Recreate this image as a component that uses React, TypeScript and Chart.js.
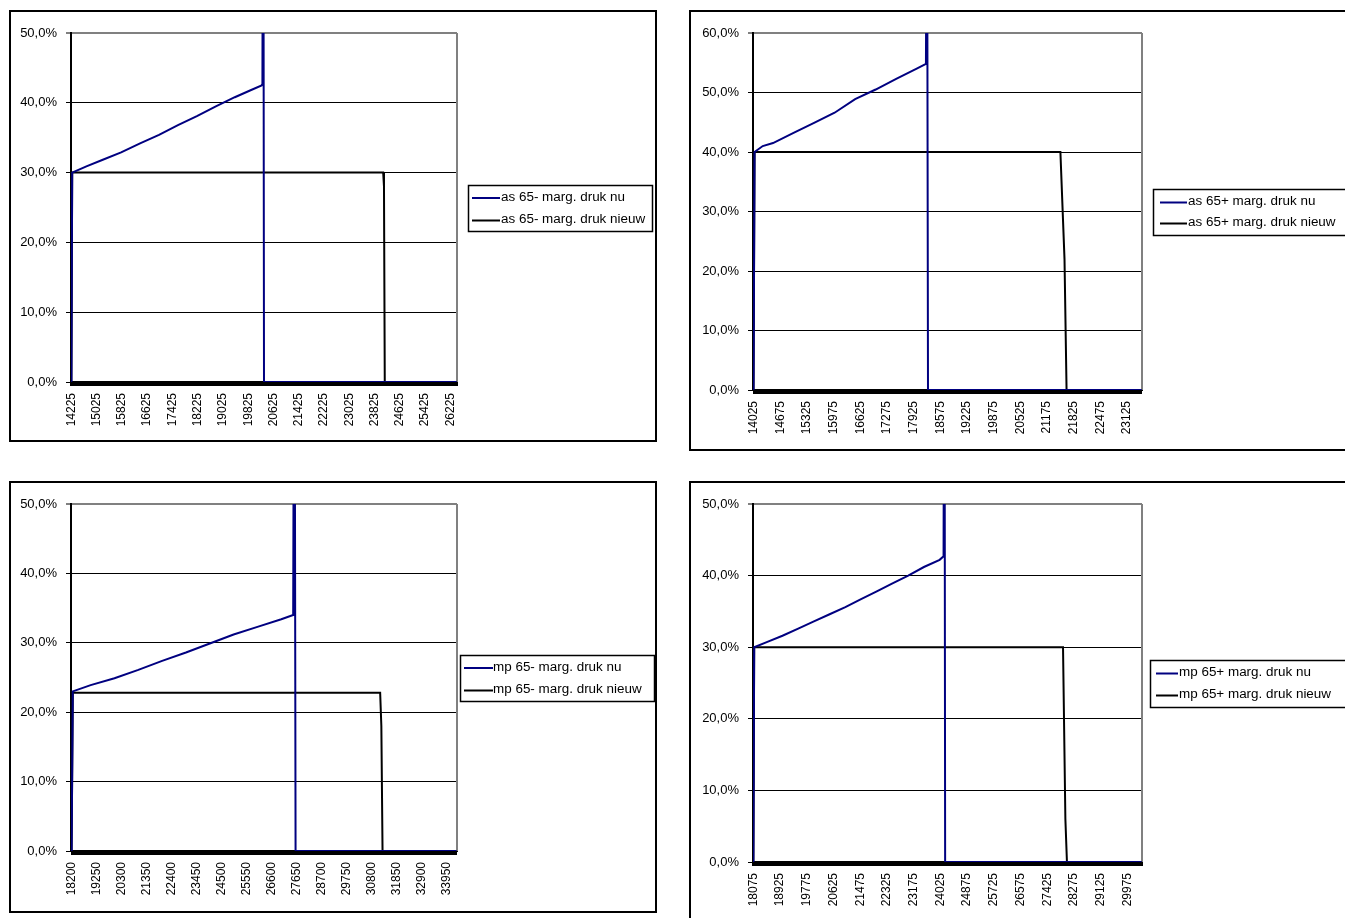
import React, { useEffect, useRef } from 'react';
import { Chart, registerables } from 'chart.js';

Chart.register(...registerables);

const FONT = '"Liberation Sans", Arial, sans-serif';
const NAVY = '#000080';

// ---------- Chart 1: as 65- ----------
const as65minLabels = [14225, 15025, 15825, 16625, 17425, 18225, 19025, 19825, 20625, 21425, 22225, 23025, 23825, 24625, 25425, 26225];
const as65minRange = [14225, 26425];
const as65minNuX = [14225, 14250, 14700, 15200, 15800, 16400, 17000, 17600, 18200, 18800, 19400, 19900, 20250, 20275, 20300, 20325, 26425];
const as65minNuY = [0, 30.0, 30.9, 31.8, 32.9, 34.2, 35.4, 36.8, 38.1, 39.5, 40.8, 41.8, 42.5, 42.7, 100, 0, 0];
const as65minNieuwX = [14225, 14250, 24100, 24125, 24150, 26425];
const as65minNieuwY = [0, 30.0, 30.0, 28.0, 0, 0];

// ---------- Chart 2: as 65+ ----------
const as65plusLabels = [14025, 14675, 15325, 15975, 16625, 17275, 17925, 18575, 19225, 19875, 20525, 21175, 21825, 22475, 23125];
const as65plusRange = [14025, 23475];
const as65plusNuX = [14025, 14050, 14250, 14500, 15000, 15500, 16000, 16500, 17000, 17500, 18000, 18225, 18250, 18275, 23475];
const as65plusNuY = [0, 40.0, 41.0, 41.5, 43.2, 44.9, 46.6, 48.9, 50.5, 52.3, 54.0, 54.8, 100, 0, 0];
const as65plusNieuwX = [14025, 14050, 21500, 21600, 21650, 23475];
const as65plusNieuwY = [0, 40.0, 40.0, 22.0, 0, 0];

// ---------- Chart 3: mp 65- ----------
const mp65minLabels = [18200, 19250, 20300, 21350, 22400, 23450, 24500, 25550, 26600, 27650, 28700, 29750, 30800, 31850, 32900, 33950];
const mp65minRange = [18200, 34350];
const mp65minNuX = [18200, 18250, 19000, 20000, 21000, 22000, 23000, 24000, 25000, 26000, 27000, 27500, 27550, 27600, 34350];
const mp65minNuY = [0, 23.0, 23.9, 24.9, 26.1, 27.4, 28.6, 29.9, 31.2, 32.3, 33.4, 34.0, 100, 0, 0];
const mp65minNieuwX = [18200, 18250, 31150, 31200, 31250, 34350];
const mp65minNieuwY = [0, 22.8, 22.8, 18.0, 0, 0];

// ---------- Chart 4: mp 65+ ----------
const mp65plusLabels = [18075, 18925, 19775, 20625, 21475, 22325, 23175, 24025, 24875, 25725, 26575, 27425, 28275, 29125, 29975];
const mp65plusRange = [18075, 30425];
const mp65plusNuX = [18075, 18100, 18500, 19000, 19500, 20000, 20500, 21000, 21500, 22000, 22500, 23000, 23500, 24000, 24125, 24150, 24175, 30425];
const mp65plusNuY = [0, 30.0, 30.7, 31.6, 32.6, 33.6, 34.6, 35.6, 36.7, 37.8, 38.9, 40.0, 41.2, 42.2, 42.7, 100, 0, 0];
const mp65plusNieuwX = [18075, 18100, 27925, 28000, 28050, 30425];
const mp65plusNieuwY = [0, 30.0, 30.0, 6.0, 0, 0];

type Cfg = {
  box: { left: number; top: number; width: number; height: number };
  pad: { left: number; top: number; right: number; bottom: number };
  yWidth: number;
  xHeight: number;
  yMax: number;
  step: number;
  range: number[];
  labels: number[];
  nuX: number[];
  nuY: number[];
  nieuwX: number[];
  nieuwY: number[];
  names: string[];
  legend: { gap: number; width: number; lineStart: number; lineEnd: number; textX: number; row1: number; row2: number; height: number };
};

const charts: Cfg[] = [
  {
    box: { left: 9, top: 10, width: 648, height: 432 },
    pad: { left: 0, top: 21, right: 198, bottom: 0 },
    yWidth: 60, xHeight: 58, yMax: 50, step: 25,
    range: as65minRange, labels: as65minLabels,
    nuX: as65minNuX, nuY: as65minNuY, nieuwX: as65minNieuwX, nieuwY: as65minNieuwY,
    names: ['as 65- marg. druk nu', 'as 65- marg. druk nieuw'],
    legend: { gap: 11, width: 184, lineStart: 4, lineEnd: 32, textX: 33, row1: 12.5, row2: 35, height: 46 },
  },
  {
    box: { left: 689, top: 10, width: 700, height: 441 },
    pad: { left: 0, top: 21, right: 245, bottom: 0 },
    yWidth: 62, xHeight: 59, yMax: 60, step: 25,
    range: as65plusRange, labels: as65plusLabels,
    nuX: as65plusNuX, nuY: as65plusNuY, nieuwX: as65plusNieuwX, nieuwY: as65plusNieuwY,
    names: ['as 65+ marg. druk nu', 'as 65+ marg. druk nieuw'],
    legend: { gap: 11, width: 200, lineStart: 7, lineEnd: 34, textX: 35, row1: 13, row2: 34, height: 46 },
  },
  {
    box: { left: 9, top: 481, width: 648, height: 432 },
    pad: { left: 0, top: 21, right: 198, bottom: 0 },
    yWidth: 60, xHeight: 60, yMax: 50, step: 50,
    range: mp65minRange, labels: mp65minLabels,
    nuX: mp65minNuX, nuY: mp65minNuY, nieuwX: mp65minNieuwX, nieuwY: mp65minNieuwY,
    names: ['mp 65- marg. druk nu', 'mp 65- marg. druk nieuw'],
    legend: { gap: 3, width: 194, lineStart: 4, lineEnd: 33, textX: 33, row1: 12.5, row2: 35, height: 46 },
  },
  {
    box: { left: 689, top: 481, width: 700, height: 450 },
    pad: { left: 0, top: 21, right: 245, bottom: 0 },
    yWidth: 62, xHeight: 67, yMax: 50, step: 25,
    range: mp65plusRange, labels: mp65plusLabels,
    nuX: mp65plusNuX, nuY: mp65plusNuY, nieuwX: mp65plusNieuwX, nieuwY: mp65plusNieuwY,
    names: ['mp 65+ marg. druk nu', 'mp 65+ marg. druk nieuw'],
    legend: { gap: 8, width: 200, lineStart: 6, lineEnd: 28, textX: 29, row1: 13, row2: 35, height: 47 },
  },
];

const boxLegend = {
  id: 'boxLegend',
  afterDraw(chart: any, _args: any, opts: any) {
    const { ctx, chartArea } = chart;
    const L = opts.cfg;
    const left = chartArea.right + L.gap;
    const top = Math.round((chartArea.top + chartArea.bottom) / 2 - L.height / 2);
    ctx.save();
    ctx.fillStyle = '#fff';
    ctx.fillRect(left, top, L.width, L.height);
    ctx.strokeStyle = '#000';
    ctx.lineWidth = 1.5;
    ctx.strokeRect(left + 0.5, top + 0.5, L.width, L.height);
    const rows = [L.row1, L.row2];
    chart.data.datasets.forEach((ds: any, i: number) => {
      const y = top + rows[i];
      ctx.strokeStyle = ds.borderColor;
      ctx.lineWidth = 2;
      ctx.beginPath();
      ctx.moveTo(left + L.lineStart, y + 0.5);
      ctx.lineTo(left + L.lineEnd, y + 0.5);
      ctx.stroke();
      ctx.fillStyle = '#000';
      ctx.font = '12px ' + FONT;
      ctx.textBaseline = 'middle';
      ctx.textAlign = 'left';
      ctx.save();
      ctx.translate(left + L.textX, y);
      ctx.scale(1.12, 1);
      ctx.fillText(ds.label, 0, 0);
      ctx.restore();
    });
    ctx.restore();
  },
};

const plotFrame = {
  id: 'plotFrame',
  beforeDatasetsDraw(chart: any) {
    const { ctx, chartArea } = chart;
    ctx.save();
    ctx.strokeStyle = '#808080';
    ctx.lineWidth = 2;
    ctx.beginPath();
    ctx.moveTo(chartArea.right, chartArea.top);
    ctx.lineTo(chartArea.right, chartArea.bottom);
    ctx.stroke();
    ctx.restore();
  },
};

function pts(xs: number[], ys: number[]) {
  return xs.map((x, i) => ({ x, y: ys[i] }));
}

function OneChart({ cfg }: { cfg: Cfg }) {
  const ref = useRef<HTMLCanvasElement | null>(null);
  useEffect(() => {
    if (!ref.current) return;
    const [first, last] = cfg.range;
    const chart = new Chart(ref.current, {
      type: 'line',
      data: {
        datasets: [
          { label: cfg.names[0], data: pts(cfg.nuX, cfg.nuY), borderColor: NAVY, borderWidth: 2, pointRadius: 0, tension: 0, fill: false },
          { label: cfg.names[1], data: pts(cfg.nieuwX, cfg.nieuwY), borderColor: '#000000', borderWidth: 2, pointRadius: 0, tension: 0, fill: false },
        ],
      },
      options: {
        animation: false,
        responsive: false,
        events: [],
        layout: { padding: cfg.pad },
        plugins: {
          legend: { display: false },
          tooltip: { enabled: false },
          boxLegend: { cfg: cfg.legend },
        } as any,
        scales: {
          x: {
            type: 'linear',
            min: first - cfg.step / 2,
            max: last + cfg.step / 2,
            afterBuildTicks: (s: any) => {
              const t: any[] = [];
              for (let v = first; v <= last; v += cfg.step) t.push({ value: v });
              s.ticks = t;
            },
            afterFit: (s: any) => { s.height = cfg.xHeight; },
            ticks: {
              autoSkip: false,
              maxRotation: 90,
              minRotation: 90,
              padding: 7,
              color: '#000',
              font: { family: FONT, size: 12 },
              callback: (v: any) => (cfg.labels.includes(Number(v)) ? String(v) : ''),
            },
            grid: { drawOnChartArea: false, drawTicks: true, tickLength: 4, color: '#000', lineWidth: 2 },
            border: { display: true, color: '#000', width: 2 },
          },
          y: {
            type: 'linear',
            min: 0,
            max: cfg.yMax,
            afterBuildTicks: (s: any) => {
              const t: any[] = [];
              for (let v = 0; v <= cfg.yMax; v += 10) t.push({ value: v });
              s.ticks = t;
            },
            afterFit: (s: any) => { s.width = cfg.yWidth; },
            ticks: {
              padding: 9,
              color: '#000',
              font: { family: FONT, size: 13 },
              callback: (v: any) => Number(v).toFixed(1).replace('.', ',') + '%',
            },
            grid: {
              color: (c: any) => (c.tick && c.tick.value === cfg.yMax ? '#808080' : '#000'),
              lineWidth: (c: any) => (c.tick && c.tick.value === cfg.yMax ? 2 : 1),
              tickLength: 5,
              drawTicks: true,
            },
            border: { display: true, color: '#000', width: 2 },
          },
        },
      } as any,
      plugins: [plotFrame, boxLegend],
    });
    return () => chart.destroy();
  }, [cfg]);
  const w = cfg.box.width - 4;
  const h = cfg.box.height - 4;
  return (
    <div
      style={{
        position: 'absolute',
        left: cfg.box.left,
        top: cfg.box.top,
        width: w,
        height: h,
        border: '2px solid #000',
        background: '#fff',
      }}
    >
      <canvas ref={ref} width={w} height={h} style={{ display: 'block', width: w, height: h }} />
    </div>
  );
}

export default function App() {
  return (
    <div style={{ position: 'fixed', left: 0, top: 0, width: 1345, height: 918, overflow: 'hidden', background: '#fff' }}>
      {charts.map((c, i) => (
        <OneChart key={i} cfg={c} />
      ))}
    </div>
  );
}
